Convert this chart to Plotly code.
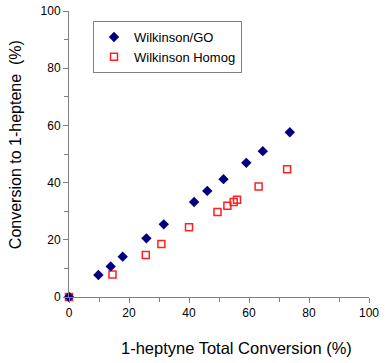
import plotly.graph_objects as go

go_x = [0, 9.8, 13.9, 17.9, 25.8, 31.6, 41.7, 46.1, 51.5, 59.1, 64.6, 73.6]
go_y = [0, 7.7, 10.7, 14.1, 20.5, 25.4, 33.2, 37.1, 41.2, 46.9, 51.0, 57.6]
hom_x = [0, 14.5, 25.6, 30.8, 40.0, 49.5, 52.8, 54.9, 56.0, 63.2, 72.7]
hom_y = [0, 7.9, 14.7, 18.5, 24.4, 29.7, 31.9, 33.2, 34.0, 38.6, 44.7]
x_title = "1-heptyne Total Conversion (%)"
y_title = "Conversion to 1-heptene  (%)"

fig = go.Figure()
fig.add_trace(go.Scatter(x=hom_x, y=hom_y, mode="markers", name="Wilkinson Homog",
                         marker=dict(symbol="square-open", color="#ff2020", size=7, line=dict(width=1.5)),
                         cliponaxis=False))
fig.add_trace(go.Scatter(x=go_x, y=go_y, mode="markers", name="Wilkinson/GO",
                         marker=dict(symbol="diamond", color="#000080", size=8),
                         cliponaxis=False))

axis_common = dict(showline=True, linecolor="#808080", linewidth=1, ticks="outside",
                   ticklen=5, tickcolor="#808080", showgrid=False, zeroline=False,
                   automargin=False, range=[0, 100], dtick=20,
                   tickfont=dict(family="Liberation Sans", size=12, color="black"),
                   minor=dict(ticks="outside", ticklen=4, tickcolor="#808080", dtick=10))

fig.update_layout(
    width=385, height=363,
    margin=dict(l=69, r=16, t=11, b=66),
    paper_bgcolor="white", plot_bgcolor="white",
    showlegend=True,
    legend=dict(x=0.08, y=0.965, xanchor="left", yanchor="top",
                bordercolor="#808080", borderwidth=1, bgcolor="white",
                traceorder="reversed", tracegroupgap=4,
                font=dict(family="Liberation Sans", size=13, color="black")),
    xaxis=axis_common,
    yaxis=axis_common,
    annotations=[
        dict(text=x_title, xref="paper", yref="paper", x=0.557, y=-0.178,
             xanchor="center", yanchor="middle", showarrow=False,
             font=dict(family="Liberation Sans", size=16.5, color="black")),
        dict(text=y_title, xref="paper", yref="paper", x=-0.18, y=0.531,
             xanchor="center", yanchor="middle", showarrow=False, textangle=-90,
             font=dict(family="Liberation Sans", size=16, color="black")),
    ],
)
fig.write_html("out.html", config={"displayModeBar": False},
               post_script="document.body.style.margin='0';")
